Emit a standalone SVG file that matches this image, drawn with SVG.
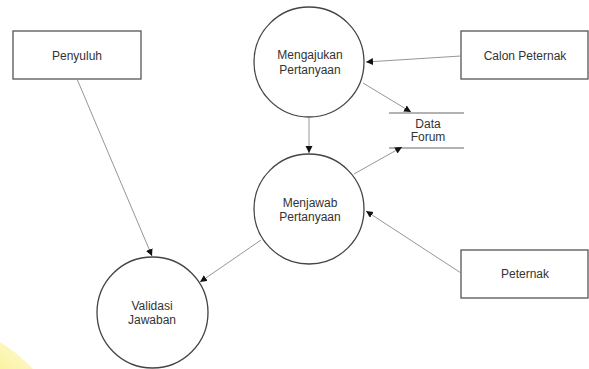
<svg xmlns="http://www.w3.org/2000/svg" width="589" height="369" viewBox="0 0 589 369">
<defs>
<marker id="ah" markerWidth="8" markerHeight="8" refX="7" refY="3.5" orient="auto" markerUnits="userSpaceOnUse">
<path d="M0,0 L7,3.5 L0,7 Z" fill="#111"/>
</marker>
<linearGradient id="yg" x1="0" y1="1" x2="1" y2="0">
<stop offset="0" stop-color="#fbf3a0"/>
<stop offset="1" stop-color="#fdf9d8"/>
</linearGradient>
<style>
.box{fill:#fff;stroke:#555;stroke-width:1.3}
.circ{fill:#fff;stroke:#444;stroke-width:1.3}
.lbl{font-family:"Liberation Sans",Arial,sans-serif;font-size:12px;fill:#333;text-anchor:middle}
.edge{stroke:#8a8a8a;stroke-width:0.9;fill:none;marker-end:url(#ah)}
.store{stroke:#666;stroke-width:1}
</style>
</defs>
<rect width="589" height="369" fill="#fff"/>
<path d="M0,342 Q18,353 33,369 L0,369 Z" fill="url(#yg)"/>
<g id="penyuluh"><rect class="box" x="13" y="31" width="128" height="48"/><text class="lbl" x="77" y="60">Penyuluh</text></g>
<g id="calon-peternak"><rect class="box" x="461" y="31" width="127" height="48"/><text class="lbl" x="525" y="60">Calon Peternak</text></g>
<g id="peternak"><rect class="box" x="461" y="250" width="127" height="48"/><text class="lbl" x="525" y="278">Peternak</text></g>
<g id="mengajukan"><circle class="circ" cx="309" cy="62" r="55"/><text class="lbl" x="310" y="59">Mengajukan</text><text class="lbl" x="310" y="74">Pertanyaan</text></g>
<g id="menjawab"><circle class="circ" cx="309" cy="209" r="55"/><text class="lbl" x="310" y="207">Menjawab</text><text class="lbl" x="310" y="221">Pertanyaan</text></g>
<g id="validasi"><circle class="circ" cx="152.5" cy="312.5" r="55.5"/><text class="lbl" x="152" y="310">Validasi</text><text class="lbl" x="152" y="324">Jawaban</text></g>
<g id="data-forum"><line class="store" x1="389" y1="113" x2="464" y2="113"/><line class="store" x1="389" y1="148" x2="464" y2="148"/><text class="lbl" x="428" y="128">Data</text><text class="lbl" x="428" y="141">Forum</text></g>
<g id="connectors">
<line class="edge" x1="461" y1="56" x2="366" y2="62"/>
<line class="edge" x1="363" y1="83" x2="411" y2="112"/>
<line class="edge" x1="309" y1="117" x2="309" y2="153"/>
<line class="edge" x1="354" y1="174" x2="402" y2="147"/>
<line class="edge" x1="461" y1="273" x2="366" y2="211"/>
<line class="edge" x1="261" y1="240" x2="200" y2="282"/>
<line class="edge" x1="77" y1="79" x2="152" y2="256"/>
</g>
</svg>
